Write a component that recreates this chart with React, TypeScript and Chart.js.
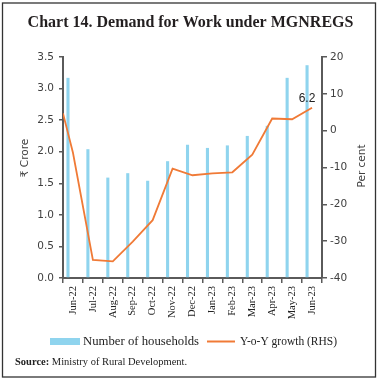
import React, { useEffect, useRef } from "react";
import { Chart, registerables } from "chart.js";

Chart.register(...registerables);

const categories = ["Jun-22", "Jul-22", "Aug-22", "Sep-22", "Oct-22", "Nov-22", "Dec-22", "Jan-23", "Feb-23", "Mar-23", "Apr-23", "May-23", "Jun-23"];
const households = [3.17, 2.04, 1.59, 1.66, 1.54, 1.85, 2.11, 2.06, 2.1, 2.25, 2.41, 3.17, 3.37];
const yoyGrowth = [-6.0, -35.1, -35.5, -30.1, -24.3, -10.3, -12.1, -11.6, -11.3, -6.5, 3.3, 3.1, 6.2];
const yoyLeadIn = 4.7; // value at which the Y-o-Y line enters from the left edge
const leftAxis = { min: 0, max: 3.5, step: 0.5 };
const rightAxis = { min: -40, max: 20, step: 10 };
const labelledValue = "6.2";

const BAR_COLOR = "#8fd4ee";
const LINE_COLOR = "#f07a36";
const AXIS_COLOR = "#5a5a5a";
const SANS = "'DejaVu Sans', sans-serif";
const SERIF = "'Liberation Serif', serif";

const decorPlugin = {
  id: "decor",
  beforeDraw(chart: any) {
    const ctx = chart.ctx;
    ctx.save();
    ctx.fillStyle = "#ffffff";
    ctx.fillRect(0, 0, chart.width, chart.height);
    ctx.restore();
  },
  afterDraw(chart: any) {
    const ctx = chart.ctx;
    ctx.save();
    // frame
    ctx.strokeStyle = "#333";
    ctx.lineWidth = 1.3;
    ctx.strokeRect(2.5, 3, 373, 374);

    // title
    ctx.fillStyle = "#231f20";
    ctx.font = `bold 16px ${SERIF}`;
    ctx.textAlign = "center";
    ctx.textBaseline = "alphabetic";
    ctx.fillText("Chart 14. Demand for Work under MGNREGS", 190.5, 27);

    // axis titles
    ctx.fillStyle = "#404040";
    ctx.font = `10.5px ${SANS}`;
    ctx.textBaseline = "middle";
    ctx.save();
    ctx.translate(25, 158);
    ctx.rotate(-Math.PI / 2);
    ctx.fillText("₹ Crore", 0, 0);
    ctx.restore();
    ctx.save();
    ctx.translate(362, 166);
    ctx.rotate(-Math.PI / 2);
    ctx.fillText("Per cent", 0, 0);
    ctx.restore();

    // data label on last line point
    const meta = chart.getDatasetMeta(1);
    const last = meta.data[meta.data.length - 1];
    if (last) {
      ctx.fillStyle = "#222";
      ctx.font = `12px 'Liberation Sans', sans-serif`;
      ctx.textAlign = "center";
      ctx.textBaseline = "middle";
      ctx.fillText(labelledValue, last.x - 5, last.y - 9);
    }

    // legend
    const ly = 341.5;
    ctx.fillStyle = BAR_COLOR;
    ctx.fillRect(50, ly - 3.5, 30, 7);
    ctx.fillStyle = "#222";
    ctx.font = `13px ${SERIF}`;
    ctx.textAlign = "left";
    ctx.textBaseline = "middle";
    ctx.fillText("Number of households", 83, ly, 116);
    ctx.strokeStyle = LINE_COLOR;
    ctx.lineWidth = 2;
    ctx.beginPath();
    ctx.moveTo(207, ly);
    ctx.lineTo(235, ly);
    ctx.stroke();
    ctx.fillText("Y-o-Y growth (RHS)", 240, ly, 97);

    // source
    ctx.font = `bold 10.5px ${SERIF}`;
    ctx.fillText("Source:", 15, 362);
    const w = ctx.measureText("Source: ").width;
    ctx.font = `10.5px ${SERIF}`;
    ctx.fillText("Ministry of Rural Development.", 15 + w, 362);
    ctx.restore();
  },
};

export default function App() {
  const ref = useRef<HTMLCanvasElement | null>(null);
  useEffect(() => {
    if (!ref.current) return;
    const lineData = [{ x: -0.5, y: yoyLeadIn }, ...yoyGrowth.map((v, i) => ({ x: i, y: v }))];
    const chart = new Chart(ref.current, {
      type: "bar",
      data: {
        labels: categories,
        datasets: [
          {
            type: "bar",
            label: "Number of households",
            data: households,
            backgroundColor: BAR_COLOR,
            barPercentage: 0.31,
            categoryPercentage: 1,
            xAxisID: "x",
            yAxisID: "y",
            order: 2,
          },
          {
            type: "line",
            label: "Y-o-Y growth (RHS)",
            data: lineData as any,
            borderColor: LINE_COLOR,
            borderWidth: 1.8,
            pointRadius: 0,
            tension: 0,
            xAxisID: "xl",
            yAxisID: "y1",
            order: 1,
          },
        ],
      },
      options: {
        animation: false,
        responsive: true,
        maintainAspectRatio: false,
        layout: { padding: { top: 57, left: 0, right: 0, bottom: 0 } },
        plugins: { legend: { display: false }, tooltip: { enabled: false }, title: { display: false } },
        scales: {
          x: {
            type: "category",
            offset: true,
            grid: { display: true, drawOnChartArea: false, drawTicks: true, tickLength: 5, color: AXIS_COLOR, lineWidth: 1.5, offset: true },
            border: { display: true, color: AXIS_COLOR, width: 2 },
            ticks: { minRotation: 90, maxRotation: 90, autoSkip: false, padding: 3, color: "#222", font: { family: SERIF, size: 10.5 } },
            afterFit: (s: any) => { s.height = 102; },
          },
          xl: {
            type: "linear",
            display: false,
            offset: false,
            grid: { offset: false },
            bounds: "data",
            min: -0.5,
            max: categories.length - 0.5,
          },
          y: {
            position: "left",
            min: leftAxis.min,
            max: leftAxis.max,
            grid: { drawOnChartArea: false, drawTicks: true, tickLength: 4, color: AXIS_COLOR, lineWidth: 1.5 },
            border: { display: true, color: AXIS_COLOR, width: 2 },
            ticks: { stepSize: leftAxis.step, padding: 5, color: "#404040", font: { family: SANS, size: 10.5 }, callback: (v: any) => Number(v).toFixed(1) },
            afterFit: (s: any) => { s.width = 63; },
          },
          y1: {
            position: "right",
            min: rightAxis.min,
            max: rightAxis.max,
            grid: { drawOnChartArea: false, drawTicks: true, tickLength: 5, color: AXIS_COLOR, lineWidth: 1.5 },
            border: { display: true, color: AXIS_COLOR, width: 2 },
            ticks: { stepSize: rightAxis.step, padding: 3, color: "#404040", font: { family: SANS, size: 10.5 } },
            afterFit: (s: any) => { s.width = 60; },
          },
        },
      } as any,
      plugins: [decorPlugin],
    });
    return () => chart.destroy();
  }, []);
  return (
    <div style={{ position: "absolute", left: 0, top: 0, width: 382, height: 380 }}>
      <canvas ref={ref} />
    </div>
  );
}
